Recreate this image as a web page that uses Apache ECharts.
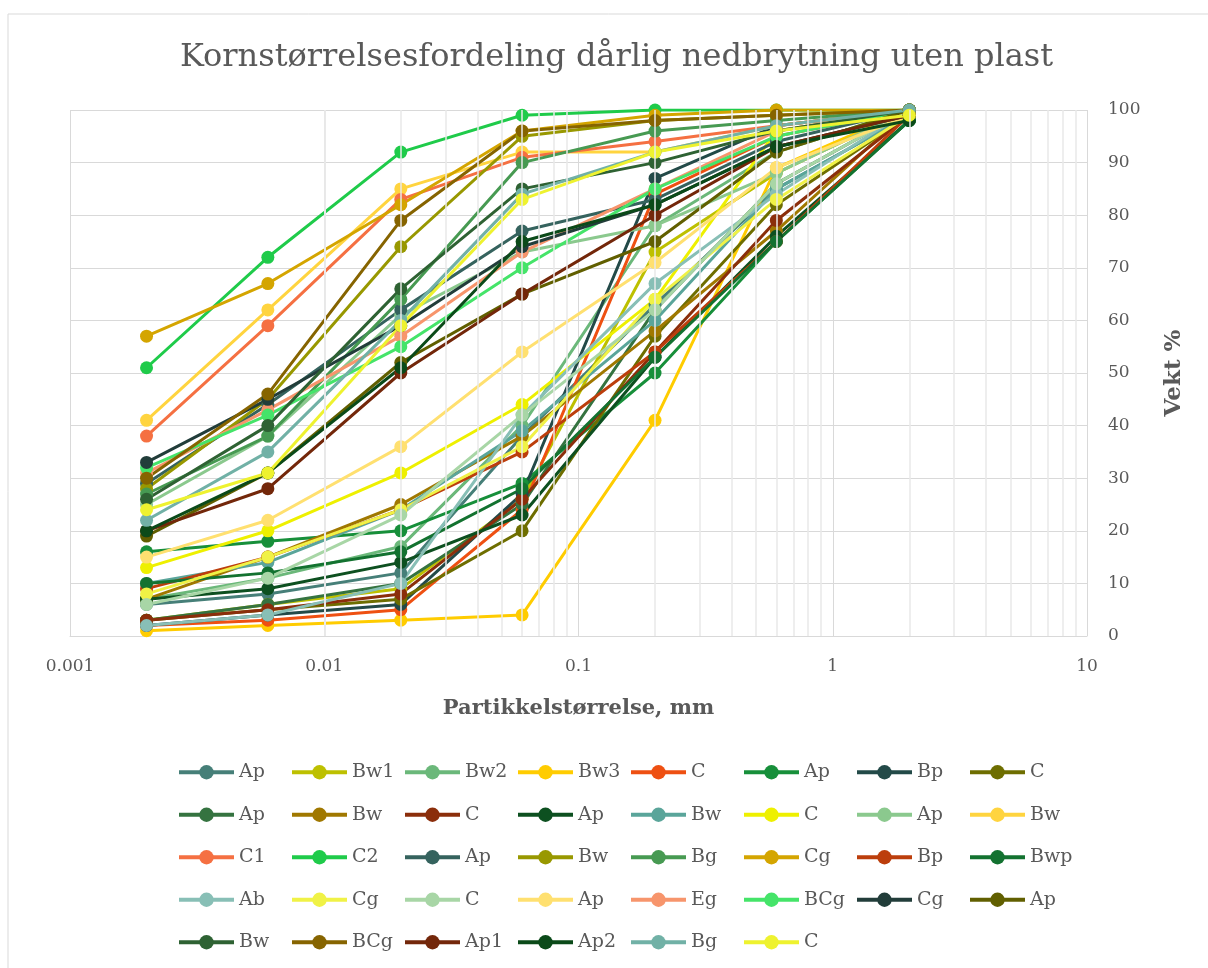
<!DOCTYPE html>
<html>
<head>
<meta charset="utf-8">
<script src="https://cdn.jsdelivr.net/npm/echarts@6/dist/echarts.min.js"></script>
<style>html,body{margin:0;padding:0;background:#fff}#c{width:1208px;height:968px}</style>
</head>
<body>
<div id="c"></div>
<script>
// x positions (mm)
const xValues = [0.002, 0.006, 0.02, 0.06, 0.2, 0.6, 2];
const xTickLabels = ['0.001', '0.01', '0.1', '1', '10'];
const legendNames = ['Ap','Bw1','Bw2','Bw3','C','Ap','Bp','C','Ap','Bw','C','Ap','Bw','C','Ap','Bw','C1','C2','Ap','Bw','Bg','Cg','Bp','Bwp','Ab','Cg','C','Ap','Eg','BCg','Cg','Ap','Bw','BCg','Ap1','Ap2','Bg','C'];

// series values (weight %, passing)
const s01 = [6, 8, 12, 38, 63, 85, 99];
const s02 = [3, 6, 9, 26, 73, 88, 100];
const s03 = [7, 11, 17, 40, 78, 92, 100];
const s04 = [1, 2, 3, 4, 41, 89, 100];
const s05 = [2, 3, 5, 24, 84, 95, 100];
const s06 = [16, 18, 20, 29, 50, 75, 98];
const s07 = [2, 4, 6, 27, 87, 97, 100];
const s08 = [3, 5, 7, 20, 57, 82, 99];
const s09 = [3, 6, 10, 25, 62, 86, 100];
const s10 = [7, 15, 25, 38, 58, 77, 100];
const s11 = [3, 5, 8, 26, 54, 79, 99];
const s12 = [7, 9, 14, 23, 53, 76, 98];
const s13 = [10, 14, 24, 39, 60, 85, 99];
const s14 = [13, 20, 31, 44, 64, 96, 100];
const s15 = [25, 38, 61, 73, 78, 88, 100];
const s16 = [41, 62, 85, 92, 92, 97, 100];
const s17 = [38, 59, 83, 91, 94, 97, 100];
const s18 = [51, 72, 92, 99, 100, 100, 100];
const s19 = [29, 44, 62, 77, 83, 94, 100];
const s20 = [28, 45, 74, 95, 98, 99, 100];
const s21 = [27, 38, 64, 90, 96, 98, 100];
const s22 = [57, 67, 82, 96, 99, 100, 100];
const s23 = [9, 15, 24, 35, 54, 75, 99];
const s24 = [10, 12, 16, 28, 53, 75, 98];
const s25 = [2, 4, 10, 42, 67, 84, 100];
const s26 = [8, 15, 24, 36, 64, 83, 99];
const s27 = [6, 11, 23, 42, 62, 86, 100];
const s28 = [15, 22, 36, 54, 71, 89, 99];
const s29 = [31, 43, 57, 73, 85, 96, 100];
const s30 = [32, 42, 55, 70, 85, 95, 100];
const s31 = [33, 45, 59, 74, 82, 93, 99];
const s32 = [19, 31, 52, 65, 75, 92, 100];
const s33 = [26, 40, 66, 85, 90, 96, 100];
const s34 = [30, 46, 79, 96, 98, 99, 100];
const s35 = [20, 28, 50, 65, 80, 93, 99];
const s36 = [20, 31, 51, 75, 82, 93, 98];
const s37 = [22, 35, 60, 84, 92, 97, 100];
const s38 = [24, 31, 59, 83, 92, 96, 99];
const seriesValues = [s01,s02,s03,s04,s05,s06,s07,s08,s09,s10,s11,s12,s13,s14,s15,s16,s17,s18,s19,s20,s21,s22,s23,s24,s25,s26,s27,s28,s29,s30,s31,s32,s33,s34,s35,s36,s37,s38];
const minorGridValues = [0.002,0.003,0.004,0.005,0.006,0.007,0.008,0.009,0.02,0.03,0.04,0.05,0.06,0.07,0.08,0.09,0.2,0.3,0.4,0.5,0.6,0.7,0.8,0.9,2,3,4,5,6,7,8,9];

const colors = ['#467F78','#BDC000','#6BB87A','#FFCC00','#EE5012','#178F3A','#234A48','#6E6E00',
  '#357340','#A07800','#8B2E0B','#0D5020','#5AA59A','#EEF000','#8BC98E','#FFD43F',
  '#F57042','#1FCB4A','#35635E','#989800','#479A52','#D4A500','#BC3E0C','#137230',
  '#88BFB6','#F0F246','#A8D6A6','#FFE070','#F7956C','#45E469','#223D3A','#615F00',
  '#2E6233','#866400','#73270A','#0B4A19','#71B1A6','#EEF22F'];

const FONT = '"DejaVu Serif", "Liberation Serif", serif';
const uniq = legendNames.map((n, i) => n + '#' + (i + 1));

const series = seriesValues.map((vals, i) => ({
  name: uniq[i],
  type: 'line',
  data: xValues.map((x, j) => [x, vals[j]]),
  symbol: 'circle',
  symbolSize: 13,
  lineStyle: { width: 3, color: colors[i] },
  itemStyle: { color: colors[i] },
  color: colors[i],
  z: 3
}));
series.push({
  name: 'minor',
  type: 'line',
  data: [],
  z: 1,
  silent: true,
  markLine: {
    silent: true, symbol: 'none', animation: false,
    label: { show: false },
    lineStyle: { color: '#e8e8e8', type: 'solid', width: 1.5 },
    data: minorGridValues.map(v => ({ xAxis: v }))
  }
});

const chart = echarts.init(document.getElementById('c'), null, { renderer: 'canvas' });
chart.setOption({
  animation: false,
  backgroundColor: '#fff',
  graphic: [{ type: 'rect', shape: { x: 8, y: 14, width: 1210, height: 970 }, style: { fill: 'none', stroke: '#d9d9d9', lineWidth: 1 }, silent: true }],
  title: {
    text: 'Kornstørrelsesfordeling dårlig nedbrytning uten plast',
    left: 175, top: 37,
    textStyle: { fontFamily: FONT, fontSize: 32, fontWeight: 'normal', color: '#595959' }
  },
  grid: { left: 70, right: 121, top: 110, bottom: 332 },
  xAxis: {
    type: 'log', logBase: 10, min: 0.001, max: 10,
    name: 'Partikkelstørrelse, mm', nameLocation: 'middle', nameGap: 62,
    nameTextStyle: { fontFamily: FONT, fontSize: 21, fontWeight: 'bold', color: '#595959' },
    axisLine: { show: true, lineStyle: { color: '#d9d9d9' } },
    axisTick: { show: false },
    axisLabel: { fontFamily: FONT, fontSize: 17, color: '#595959', margin: 22,
      formatter: v => { const i = Math.round(Math.log10(v)) + 3; return xTickLabels[i] !== undefined ? xTickLabels[i] : ''; } },
    splitLine: { show: true, lineStyle: { color: '#d9d9d9' } }
  },
  yAxis: {
    type: 'value', position: 'right', min: 0, max: 100, interval: 10,
    name: 'Vekt %', nameLocation: 'middle', nameGap: 76, nameRotate: 90,
    nameTextStyle: { fontFamily: FONT, fontSize: 23, fontWeight: 'bold', color: '#595959' },
    axisLine: { show: false }, axisTick: { show: false },
    axisLabel: { fontFamily: FONT, fontSize: 17, color: '#595959', margin: 21, align: 'left' },
    splitLine: { show: true, lineStyle: { color: '#d9d9d9' } }
  },
  legend: {
    data: uniq,
    left: 177, top: 754, width: 900, padding: 0,
    itemWidth: 55, itemHeight: 18, itemGap: 6,
    lineStyle: { width: 4 },
    formatter: n => n.split('#')[0],
    textStyle: { fontFamily: FONT, fontSize: 19, color: '#595959', width: 45, lineHeight: 36.5 }
  },
  series: series
});
</script>
</body>
</html>
